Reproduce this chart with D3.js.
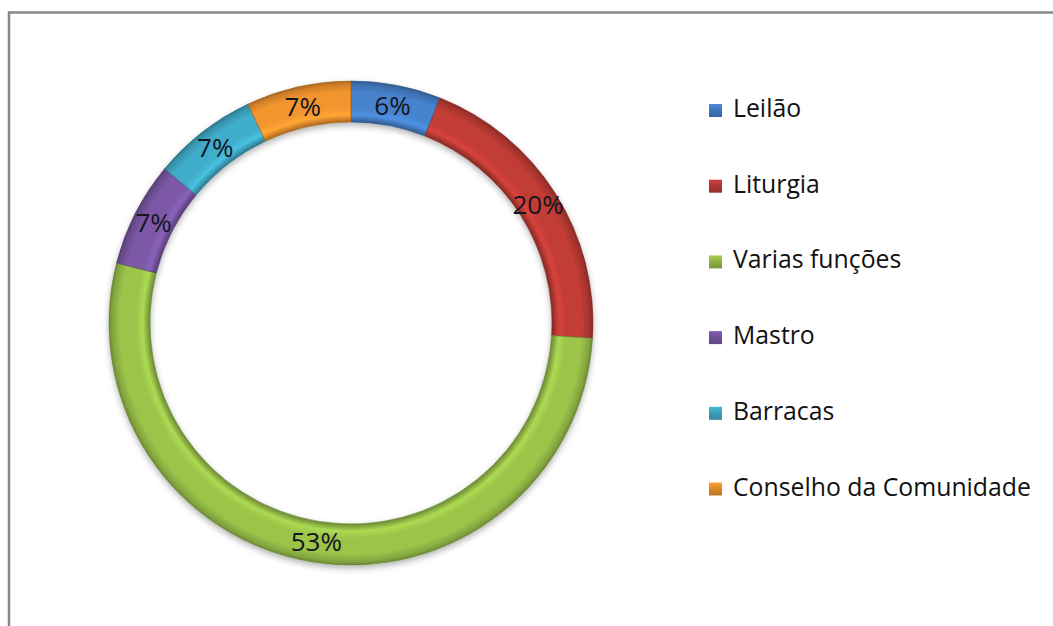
<!DOCTYPE html>
<html>
<head>
<meta charset="utf-8">
<script src="https://cdn.jsdelivr.net/npm/d3@7"></script>
<style>
  html, body { margin: 0; padding: 0; background: #fff; }
  svg { display: block; }
</style>
</head>
<body>
<svg id="chart" width="1053" height="626"></svg>
<script>
// Participation by role (percent of total)
const categories = ["Leilão", "Liturgia", "Varias funções", "Mastro", "Barracas", "Conselho da Comunidade"];
const values = [6, 20, 53, 7, 7, 7];
const colors = ["#4682cc", "#c13c35", "#9bc44a", "#7b58a6", "#41adca", "#f3952f"];

const svg = d3.select("#chart");
const W = 1053, H = 626;

// chart frame (runs off the right and bottom edges)
svg.append("rect")
  .attr("x", 9).attr("y", 12.5)
  .attr("width", W + 20).attr("height", H + 20)
  .attr("fill", "#fff")
  .attr("stroke", "#888").attr("stroke-width", 2.5);

const cx = 351, cy = 323;
const outerR = 242, innerR = 201;

const defs = svg.append("defs");

// soft shadow under the ring
const shadow = defs.append("filter").attr("id", "ringShadow")
  .attr("x", "-10%").attr("y", "-10%").attr("width", "120%").attr("height", "120%");
shadow.append("feDropShadow")
  .attr("dx", 0).attr("dy", 3).attr("stdDeviation", 3)
  .attr("flood-color", "#000").attr("flood-opacity", 0.3);

// bevelled look across the ring thickness
const k = innerR / outerR;
colors.forEach((c, i) => {
  const base = d3.color(c);
  const g = defs.append("radialGradient")
    .attr("id", "bevel" + i)
    .attr("gradientUnits", "userSpaceOnUse")
    .attr("cx", 0).attr("cy", 0).attr("r", outerR);
  const stops = [
    [k, base.darker(1.0)],
    [k + 0.012, base.darker(0.4)],
    [k + 0.03, base.brighter(0.3)],
    [k + 0.06, base],
    [0.955, base],
    [0.985, base.darker(0.45)],
    [1, base.darker(1.0)]
  ];
  stops.forEach(([o, col]) => g.append("stop").attr("offset", o).attr("stop-color", col));

  const lg = defs.append("linearGradient")
    .attr("id", "marker" + i)
    .attr("x1", 0).attr("y1", 0).attr("x2", 0).attr("y2", 1);
  lg.append("stop").attr("offset", 0).attr("stop-color", base.brighter(0.2));
  lg.append("stop").attr("offset", 0.5).attr("stop-color", base.darker(0.3));
  lg.append("stop").attr("offset", 1).attr("stop-color", base.darker(0.7));
});

const pie = d3.pie().value(d => d).sort(null);
const arc = d3.arc().innerRadius(innerR).outerRadius(outerR);
const labelArc = d3.arc().innerRadius((innerR + outerR) / 2).outerRadius((innerR + outerR) / 2);

const g = svg.append("g").attr("transform", `translate(${cx},${cy})`);
const arcs = pie(values);

g.append("g").attr("filter", "url(#ringShadow)")
  .selectAll("path")
  .data(arcs)
  .join("path")
  .attr("d", arc)
  .attr("fill", (d, i) => `url(#bevel${i})`)
  .attr("stroke", (d, i) => d3.color(colors[i]).darker(1.2))
  .attr("stroke-width", 0.8)
  .attr("stroke-opacity", 0.7);

// percentage labels
const total = d3.sum(values);
g.selectAll("text.pct")
  .data(arcs)
  .join("text")
  .attr("class", "pct")
  .attr("transform", d => `translate(${labelArc.centroid(d)})`)
  .attr("text-anchor", "middle")
  .attr("dy", "0.36em")
  .attr("font-family", "'Open Sans', sans-serif")
  .attr("font-size", 26)
  .attr("fill", "#15151f")
  .text(d => Math.round(d.data / total * 100) + "%");

// legend
const legend = svg.append("g");
const rowY = d3.scalePoint().domain(categories).range([117, 495.5]);
const items = legend.selectAll("g")
  .data(categories)
  .join("g")
  .attr("transform", d => `translate(0,${rowY(d)})`);

items.append("rect")
  .attr("x", 709).attr("y", -13)
  .attr("width", 13).attr("height", 13)
  .attr("fill", (d, i) => `url(#marker${i})`);

items.append("text")
  .attr("x", 733).attr("y", 0)
  .attr("font-family", "'Open Sans', sans-serif")
  .attr("font-size", 24.8)
  .attr("fill", "#111")
  .text(d => d);
</script>
</body>
</html>
